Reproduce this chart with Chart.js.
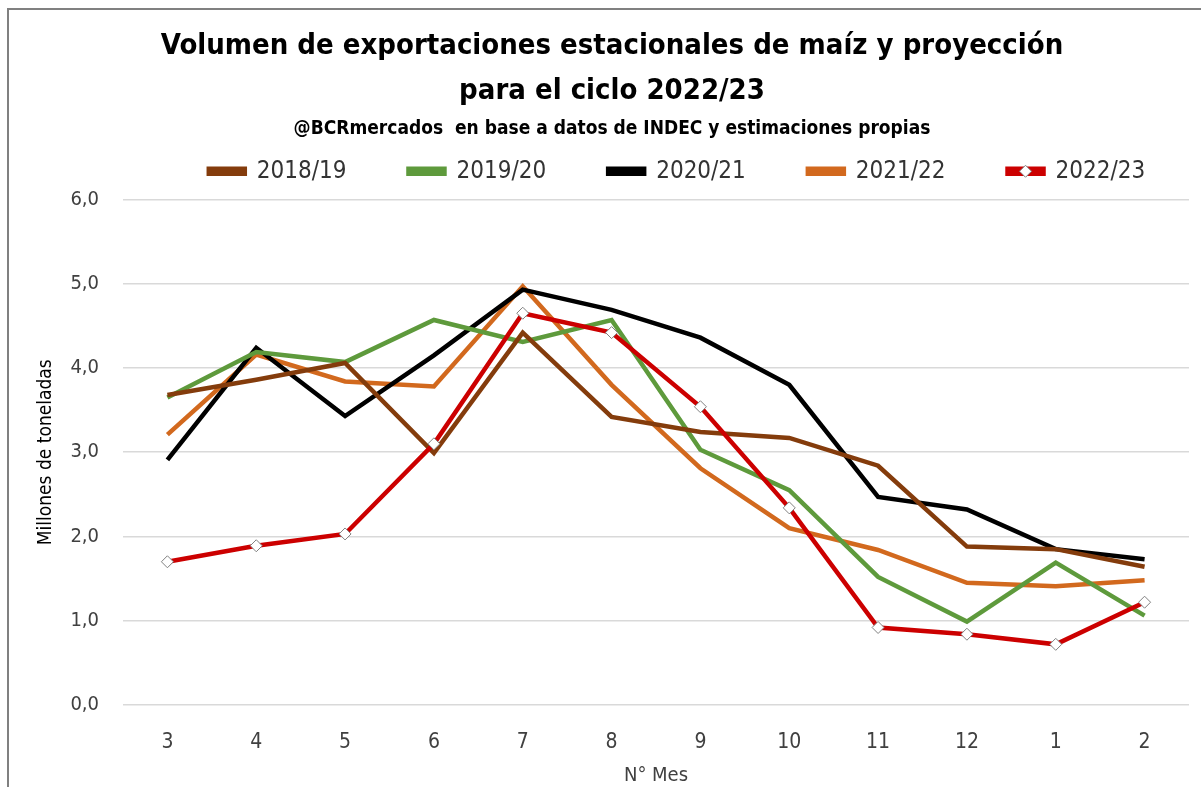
<!DOCTYPE html>
<html>
<head>
<meta charset="utf-8">
<script src="https://cdn.jsdelivr.net/npm/chart.js@4/dist/chart.umd.min.js"></script>
<style>
  html, body { margin: 0; padding: 0; background: #fff; overflow: hidden; }
  #frame { position: absolute; left: 7px; top: 8px; width: 1194px; height: 779px;
           border-top: 2px solid #808080; border-left: 2px solid #808080; box-sizing: border-box; }
  #wrap { position: absolute; left: 0; top: 0; width: 1201px; height: 787px; }
</style>
</head>
<body>
<div id="frame"></div>
<div id="wrap"><canvas id="chart"></canvas></div>
<script>
const months = ['3', '4', '5', '6', '7', '8', '9', '10', '11', '12', '1', '2'];
const seriesNames = ['2018/19', '2019/20', '2020/21', '2021/22', '2022/23'];
const s1819 = [3.68, 3.86, 4.06, 2.99, 4.42, 3.42, 3.24, 3.17, 2.84, 1.88, 1.85, 1.64];
const s1920 = [3.65, 4.19, 4.07, 4.57, 4.31, 4.57, 3.03, 2.55, 1.52, 0.99, 1.69, 1.06];
const s2021 = [2.91, 4.24, 3.43, 4.15, 4.93, 4.69, 4.36, 3.80, 2.47, 2.32, 1.85, 1.73];
const s2122 = [3.21, 4.16, 3.84, 3.78, 4.97, 3.80, 2.81, 2.10, 1.84, 1.45, 1.41, 1.48];
const s2223 = [1.70, 1.89, 2.03, 3.10, 4.65, 4.42, 3.54, 2.34, 0.92, 0.84, 0.72, 1.22];
const yTicks = [0, 1, 2, 3, 4, 5, 6];

const colors = ['#843c0c', '#5e9a3c', '#000000', '#d2691e', '#cc0000'];
const allData = [s1819, s1920, s2021, s2122, s2223];

const narrow = "'DejaVu Sans Condensed', 'Liberation Sans Narrow', sans-serif";

const datasets = allData.map((d, i) => {
    const isProj = i === 4;
    return {
        label: seriesNames[i],
        data: d,
        borderColor: colors[i],
        backgroundColor: colors[i],
        borderWidth: 4.5,
        tension: 0,
        pointStyle: 'rectRot',
        pointRadius: isProj ? 6 : 0,
        pointBackgroundColor: '#ffffff',
        pointBorderColor: '#808080',
        pointBorderWidth: 1,
        order: isProj ? 0 : 1,
    };
});

// legend: trim its box height and move it right, like the Excel original
const legendTweak = {
    id: 'legendTweak',
    afterInit(chart) {
        const lg = chart.legend;
        const origFit = lg.fit;
        lg.fit = function () {
            origFit.call(this);
            this.height -= 11;
        };
    },
    afterLayout(chart) {
        chart.legend.left += 65;
        chart.legend.right += 65;
    },
    // white diamond on top of the legend sample of the projection series
    afterDraw(chart) {
        const boxes = chart.legend.legendHitBoxes;
        if (!boxes || !boxes[4]) return;
        const b = boxes[4];
        const bw = chart.legend.options.labels.boxWidth;
        const cx = b.left + bw / 2;
        const cy = b.top + b.height / 2;
        const r = 6;
        const ctx = chart.ctx;
        ctx.save();
        ctx.beginPath();
        ctx.moveTo(cx, cy - r);
        ctx.lineTo(cx + r, cy);
        ctx.lineTo(cx, cy + r);
        ctx.lineTo(cx - r, cy);
        ctx.closePath();
        ctx.fillStyle = '#fff';
        ctx.fill();
        ctx.strokeStyle = '#808080';
        ctx.lineWidth = 1;
        ctx.stroke();
        ctx.restore();
    }
};

new Chart(document.getElementById('chart'), {
    type: 'line',
    data: { labels: months, datasets: datasets },
    options: {
        responsive: true,
        maintainAspectRatio: false,
        animation: false,
        layout: { padding: { top: 24, left: 35, right: 12, bottom: 0 } },
        plugins: {
            title: {
                display: true,
                text: ['Volumen de exportaciones estacionales de maíz y proyección', 'para el ciclo 2022/23'],
                color: '#000',
                font: { family: narrow, size: 29, weight: 'bold', lineHeight: 1.56 },
                padding: { top: 0, bottom: 0 },
            },
            subtitle: {
                display: true,
                text: '@BCRmercados  en base a datos de INDEC y estimaciones propias',
                color: '#000',
                font: { family: narrow, size: 19, weight: 'bold' },
                padding: { top: 3, bottom: -43 },
            },
            legend: {
                display: true,
                labels: {
                    color: '#333',
                    font: { family: narrow, size: 24 },
                    boxWidth: 36,
                    boxHeight: 5,
                    padding: 62,
                    sort: (a, b) => a.datasetIndex - b.datasetIndex,
                },
            },
            tooltip: { enabled: false },
        },
        scales: {
            x: {
                offset: true,
                grid: { display: false },
                border: { display: false },
                afterFit: (axis) => { axis.height = 82; },
                ticks: { color: '#404040', font: { family: narrow, size: 21 }, padding: 34 },
                title: { display: true, text: 'N° Mes', color: '#404040', font: { family: narrow, size: 20 }, padding: { top: 11, bottom: -18 } },
            },
            y: {
                min: yTicks[0],
                max: yTicks[yTicks.length - 1],
                afterBuildTicks: (axis) => { axis.ticks = yTicks.map(v => ({ value: v })); },
                afterFit: (axis) => { axis.width = 88; },
                grid: { color: '#d9d9d9', lineWidth: 1.5, drawTicks: false },
                border: { display: false },
                ticks: {
                    color: '#404040',
                    font: { family: narrow, size: 20 },
                    padding: 24,
                    callback: (v) => Number(v).toFixed(1).replace('.', ','),
                },
                title: { display: true, text: 'Millones de toneladas', color: '#000', font: { family: narrow, size: 19 }, padding: { top: 0, bottom: 6 } },
            },
        },
    },
    plugins: [legendTweak],
});
</script>
</body>
</html>
